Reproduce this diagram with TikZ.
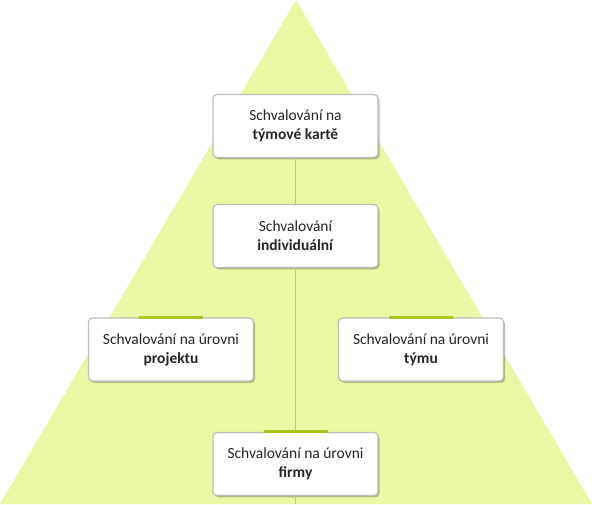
\documentclass[tikz,border=0pt]{standalone}
\usepackage{fontspec}
\setmainfont{Carlito}
\usetikzlibrary{shadows}
\definecolor{tri}{HTML}{EAF8A4}
\definecolor{bar}{HTML}{A8C41E}
\definecolor{frame}{HTML}{BDBDBD}
\definecolor{txt}{HTML}{262626}
\begin{document}
\begin{tikzpicture}[x=1pt,y=-1pt,
  box/.style={draw=frame, line width=1.2pt, fill=white, rounded corners=4pt,
    minimum width=165pt, minimum height=63pt, align=center, text=txt,
    font=\fontsize{15.5}{19}\selectfont,
    drop shadow={shadow xshift=1.5pt, shadow yshift=-1.8pt, opacity=0.25, fill=black}},
  link/.style={draw=frame, line width=0.8pt},
  topbar/.style={draw=bar, line width=3pt}]
\useasboundingbox (0,0) rectangle (592,504);
\fill[white] (0,0) rectangle (592,504);
\fill[tri] (296,0) -- (592,504) -- (0,504) -- cycle;
\coordinate (bot) at (295.5,504);
\node[box] (b1) at (295.5,126) {Schvalování na\\\textbf{týmové kartě}};
\node[box] (b2) at (295.5,236) {Schvalování\\\textbf{individuální}};
\node[box] (b3) at (171,349.5) {Schvalování na úrovni\\\textbf{projektu}};
\node[box] (b4) at (421,349.5) {Schvalování na úrovni\\\textbf{týmu}};
\node[box] (b5) at (295.5,464) {Schvalování na úrovni\\\textbf{firmy}};
\draw[link] (b1.south) -- (b2.north);
\draw[link] (b2.south) -- (b5.north);
\draw[link] (b5.south) -- (bot);
\draw[topbar] ([xshift=-32pt]b3.north) -- ([xshift=32pt]b3.north);
\draw[topbar] ([xshift=-32pt]b4.north) -- ([xshift=32pt]b4.north);
\draw[topbar] ([xshift=-32pt]b5.north) -- ([xshift=32pt]b5.north);
\end{tikzpicture}
\end{document}
